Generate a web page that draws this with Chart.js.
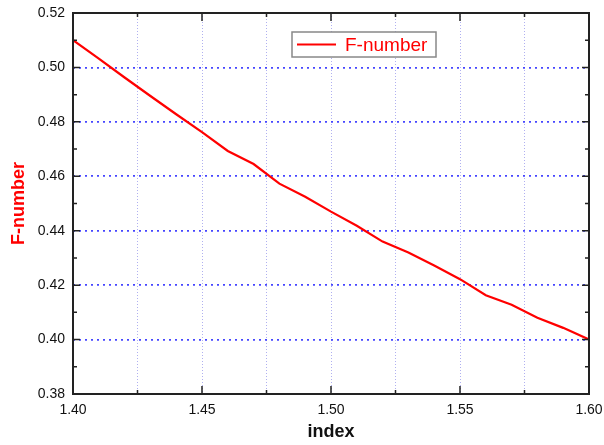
<!DOCTYPE html>
<html>
<head>
<meta charset="utf-8">
<script src="https://cdn.jsdelivr.net/npm/chart.js@4.4.1/dist/chart.umd.min.js"></script>
<style>
  html, body { margin: 0; padding: 0; background: #fff; }
  #wrap { width: 604px; height: 445px; }
</style>
</head>
<body>
<div id="wrap"><canvas id="fnChart"></canvas></div>
<script>
// refractive index vs F-number
const indexValues = [1.40, 1.41, 1.42, 1.43, 1.44, 1.45, 1.46, 1.47, 1.48, 1.49, 1.50,
                     1.51, 1.52, 1.53, 1.54, 1.55, 1.56, 1.57, 1.58, 1.59, 1.60];
const fNumber = [0.5100, 0.5032, 0.4963, 0.4895, 0.4828, 0.4762, 0.4693, 0.4645, 0.4573, 0.4525, 0.4470,
                 0.4418, 0.4360, 0.4320, 0.4272, 0.4222, 0.4163, 0.4128, 0.4080, 0.4043, 0.4000];
const xTicks = [1.40, 1.45, 1.50, 1.55, 1.60];
const yTicks = [0.38, 0.40, 0.42, 0.44, 0.46, 0.48, 0.50, 0.52];

const FONT = "'Liberation Sans', Arial, sans-serif";
const RED = "rgb(255,0,0)";

// box, inward ticks and legend, drawn like the original plot
const framePlugin = {
  id: "frame",
  afterDraw(chart) {
    const c = chart.ctx;
    const a = chart.chartArea;
    const xs = chart.scales.x, ys = chart.scales.y;
    c.save();
    c.strokeStyle = "#222";
    c.lineWidth = 1.5;
    c.beginPath();
    xs.ticks.forEach(t => {
      const px = xs.getPixelForValue(t.value);
      const major = xTicks.some(v => Math.abs(v - t.value) < 1e-6);
      const len = major ? 8 : 4;
      c.moveTo(px, a.bottom); c.lineTo(px, a.bottom - len);
      c.moveTo(px, a.top); c.lineTo(px, a.top + len);
    });
    ys.ticks.forEach(t => {
      [t.value, t.value + 0.01].forEach((v, k) => {
        if (v > ys.max + 1e-6) return;
        const py = ys.getPixelForValue(v);
        const len = k === 0 ? 7 : 4;
        c.moveTo(a.left, py); c.lineTo(a.left + len, py);
        c.moveTo(a.right, py); c.lineTo(a.right - len, py);
      });
    });
    c.stroke();
    c.lineWidth = 2;
    c.strokeRect(a.left, a.top, a.right - a.left, a.bottom - a.top);

    // legend box
    const ds = chart.data.datasets[0];
    const bx = a.left + 219, by = a.top + 19, bw = 144, bh = 25;
    c.fillStyle = "#fff";
    c.fillRect(bx, by, bw, bh);
    c.strokeStyle = "#888";
    c.lineWidth = 1.5;
    c.strokeRect(bx, by, bw, bh);
    c.strokeStyle = ds.borderColor;
    c.lineWidth = 2;
    c.beginPath();
    c.moveTo(bx + 5, by + bh / 2); c.lineTo(bx + 44, by + bh / 2);
    c.stroke();
    c.fillStyle = ds.borderColor;
    c.font = "19px " + FONT;
    c.textBaseline = "middle";
    c.fillText(ds.label, bx + 53, by + bh / 2 + 1);
    c.restore();
  }
};

new Chart(document.getElementById("fnChart"), {
  type: "line",
  data: {
    datasets: [
      {
        label: "F-number",
        data: indexValues.map((v, i) => ({ x: v, y: fNumber[i] })),
        borderColor: RED,
        borderWidth: 2.2,
        pointRadius: 0,
        tension: 0,
        fill: false,
      },
    ],
  },
  options: {
    responsive: true,
    maintainAspectRatio: false,
    animation: false,
    layout: { padding: { top: 13, right: 15, left: 0, bottom: 0 } },
    plugins: { legend: { display: false }, tooltip: { enabled: false } },
    scales: {
      x: {
        type: "linear",
        min: 1.4,
        max: 1.6,
        afterFit: s => { s.height = 51; s.paddingLeft = 0; s.paddingRight = 0; },
        ticks: {
          stepSize: 0.025,
          autoSkip: false,
          maxRotation: 0,
          padding: 8,
          color: "#111",
          font: { family: FONT, size: 14 },
          callback: v => (Math.round(v * 1000) % 50 === 0 ? v.toFixed(2) : ""),
        },
        grid: { color: "rgba(150,150,235,0.75)", lineWidth: 1, drawTicks: false },
        border: { display: false, dash: [1, 2] },
        title: {
          display: true,
          text: "index",
          color: "#111",
          font: { family: FONT, size: 18, weight: "bold" },
          padding: { top: 0, bottom: 2 },
        },
      },
      y: {
        min: 0.38,
        max: 0.52,
        afterFit: s => { s.width = 73; s.paddingTop = 0; s.paddingBottom = 0; },
        ticks: {
          stepSize: 0.02,
          padding: 8,
          color: "#111",
          font: { family: FONT, size: 14 },
          callback: v => v.toFixed(2),
        },
        grid: { color: "rgb(70,70,255)", lineWidth: 1.7, drawTicks: false },
        border: { display: false, dash: [2, 4] },
        title: {
          display: true,
          text: "F-number",
          color: RED,
          font: { family: FONT, size: 18, weight: "bold" },
          padding: { top: 8, bottom: 0 },
        },
      },
    },
  },
  plugins: [framePlugin],
});
</script>
</body>
</html>
